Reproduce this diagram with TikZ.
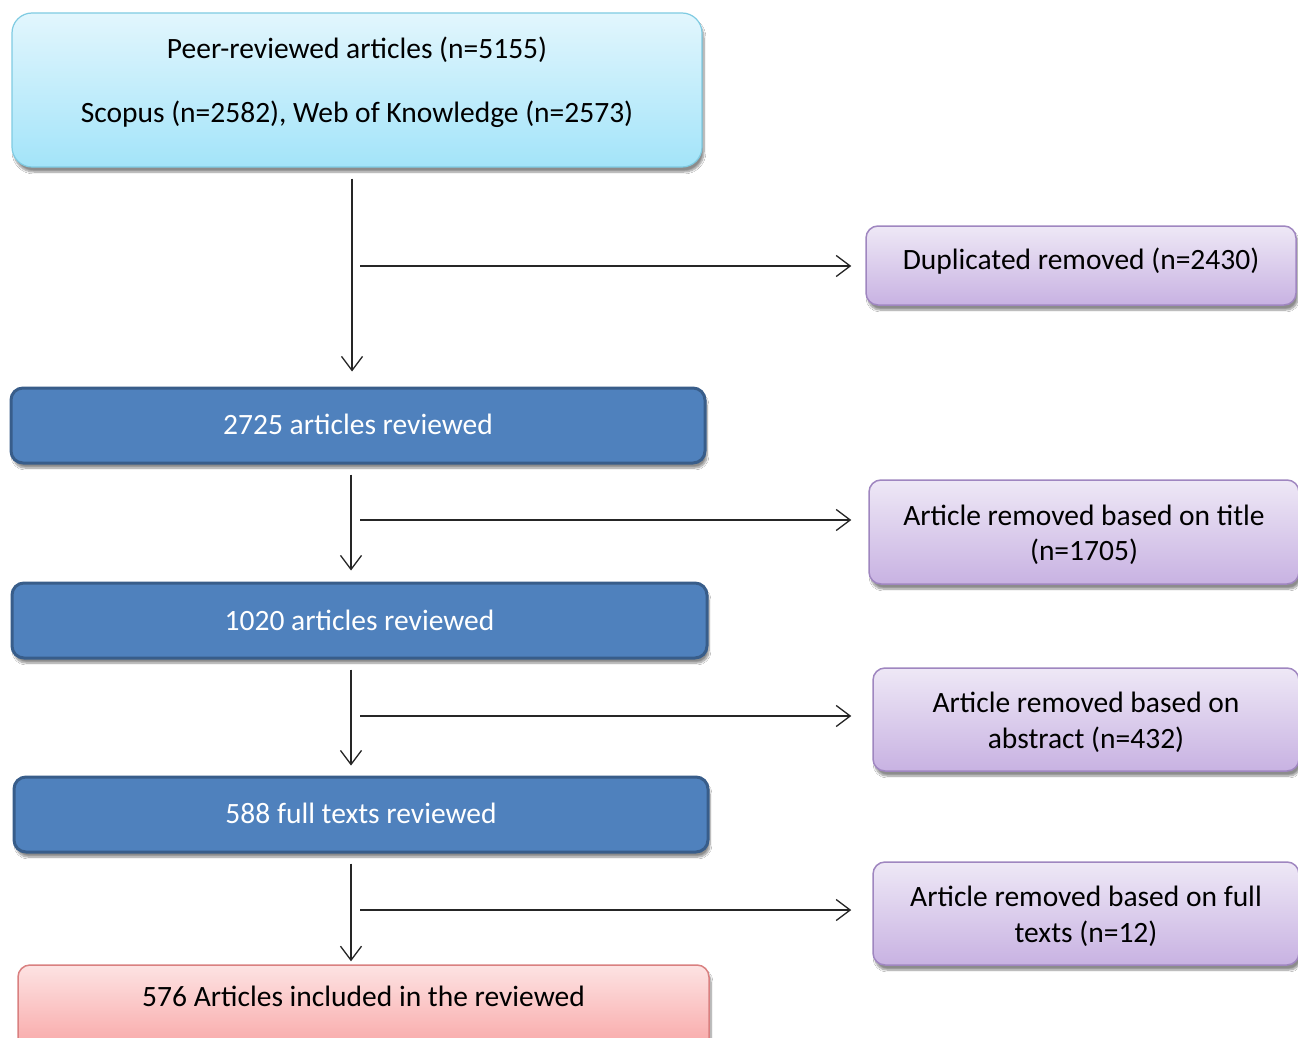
\documentclass[tikz,border=0pt]{standalone}
\usepackage{fontspec}
\setmainfont{Carlito}
\usetikzlibrary{arrows.meta,shadows.blur}
\definecolor{cyanTop}{HTML}{E2F6FD}
\definecolor{cyanBot}{HTML}{A3E4F9}
\definecolor{cyanLine}{HTML}{7FCBE2}
\definecolor{blueFill}{HTML}{4F81BD}
\definecolor{blueLine}{HTML}{385D8A}
\definecolor{purTop}{HTML}{EEE8F6}
\definecolor{purBot}{HTML}{C8B2E2}
\definecolor{purLine}{HTML}{9F86C0}
\definecolor{pinkTop}{HTML}{FDE3E3}
\definecolor{pinkBot}{HTML}{F8A3A3}
\definecolor{pinkLine}{HTML}{D98080}
\newcommand{\shiftup}[2]{\raisebox{#1}[\height][\depth]{#2}}
\newcommand{\twolines}[4]{\shiftup{#1}{\begin{tabular}{@{}c@{}}#2\\[#3]#4\end{tabular}}}
\tikzset{
  basebox/.style={rounded corners=12pt, align=center, inner sep=0pt,
    font=\fontsize{29.5}{35}\selectfont,
    blur shadow={shadow xshift=2pt, shadow yshift=-5pt, shadow blur steps=8, shadow opacity=45}},
  srcbox/.style={basebox, top color=cyanTop, bottom color=cyanBot, draw=cyanLine, line width=1.2pt, rounded corners=20pt},
  revbox/.style={basebox, fill=blueFill, draw=blueLine, line width=3pt, text=white},
  rembox/.style={basebox, top color=purTop, bottom color=purBot, draw=purLine, line width=1.5pt},
  incbox/.style={basebox, top color=pinkTop, bottom color=pinkBot, draw=pinkLine, line width=1.5pt},
  flow/.style={draw=black!85, line width=1.3pt, -{Straight Barb[length=14pt,width=21pt,line width=1.3pt]}}
}
\begin{document}
\begin{tikzpicture}[x=1pt,y=-1pt]
\useasboundingbox (0,0) rectangle (1298,1038);
\fill[white] (0,0) rectangle (1298,1038);

\node[srcbox, minimum width=690pt, minimum height=154pt] (src) at (357,90)
  {\twolines{6pt}{Peer-reviewed articles (n=5155)}{29pt}{Scopus (n=2582), Web of Knowledge (n=2573)}};
\node[rembox, minimum width=430pt, minimum height=79pt] (dup) at (1081,265.5)
  {\shiftup{4.5pt}{Duplicated removed (n=2430)}};
\node[revbox, minimum width=694pt, minimum height=75pt] (r1) at (358,425.5)
  {\shiftup{1pt}{2725 articles reviewed}};
\node[rembox, minimum width=430pt, minimum height=104pt] (t1) at (1084,532)
  {\twolines{-3.5pt}{Article removed based on title}{0pt}{(n=1705)}};
\node[revbox, minimum width=695pt, minimum height=75pt] (r2) at (359.5,620.5)
  {1020 articles reviewed};
\node[rembox, minimum width=426pt, minimum height=103pt] (a1) at (1086,719.5)
  {\twolines{-4pt}{Article removed based on}{1pt}{abstract (n=432)}};
\node[revbox, minimum width=694pt, minimum height=75pt] (r3) at (361,814.5)
  {\shiftup{1pt}{588 full texts reviewed}};
\node[rembox, minimum width=426pt, minimum height=103pt] (f1) at (1086,913.5)
  {\twolines{-4pt}{Article removed based on full}{1pt}{texts (n=12)}};
\node[incbox, minimum width=691pt, minimum height=90pt, text depth=0pt] (inc) at (363.5,1010)
  {\raisebox{28pt}{576 Articles included in the reviewed}};

\coordinate (col) at (352,0);
\coordinate (col2) at (351,0);
\coordinate (h1) at (360,266);
\coordinate (h2) at (360,520);
\coordinate (h3) at (360,716);
\coordinate (h4) at (360,910);

\draw[flow, shorten <=11pt, shorten >=15pt] (src.south -| col) -- (r1.north -| col);
\draw[flow, shorten <=10pt, shorten >=11pt] (r1.south -| col2) -- (r2.north -| col2);
\draw[flow, shorten <=10pt, shorten >=10pt] (r2.south -| col2) -- (r3.north -| col2);
\draw[flow, shorten <=10pt, shorten >=3pt] (r3.south -| col2) -- (inc.north -| col2);

\draw[flow, shorten >=14pt] (h1) -- (h1 -| dup.west);
\draw[flow, shorten >=17pt] (h2) -- (h2 -| t1.west);
\draw[flow, shorten >=21pt] (h3) -- (h3 -| a1.west);
\draw[flow, shorten >=21pt] (h4) -- (h4 -| f1.west);
\end{tikzpicture}
\end{document}
